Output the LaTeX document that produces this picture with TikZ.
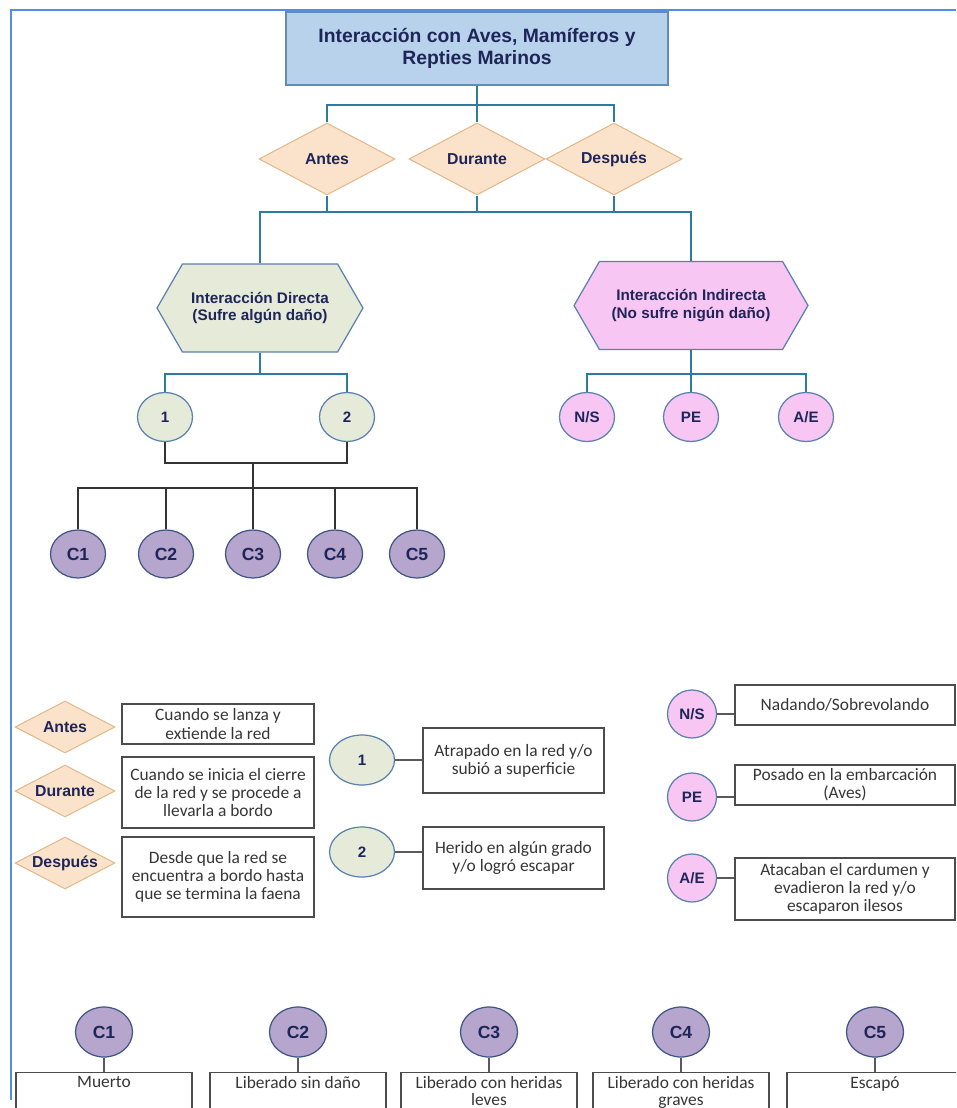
\documentclass[tikz,border=0pt]{standalone}
\usepackage{fontspec}
\setmainfont{Liberation Sans}
\newfontfamily\legendfont{Carlito}
\usetikzlibrary{shapes.geometric,shapes.symbols}
\definecolor{navy}{HTML}{1E2559}
\definecolor{titlefill}{HTML}{B8D2EC}
\definecolor{titleline}{HTML}{5F8DB5}
\definecolor{phasefill}{HTML}{FBE3CB}
\definecolor{phaseline}{HTML}{E3B98B}
\definecolor{dirfill}{HTML}{E5EAD9}
\definecolor{indfill}{HTML}{F7C6F3}
\definecolor{shapeline}{HTML}{5A80AE}
\definecolor{cfill}{HTML}{B6A5CD}
\definecolor{cline}{HTML}{3E5585}
\definecolor{teal}{HTML}{2C7BA0}
\definecolor{framecol}{HTML}{4F8FEA}
\definecolor{legtext}{HTML}{363636}
\newcommand{\dlabel}[1]{\makebox[0pt]{#1}}
\begin{document}
\begin{tikzpicture}[x=0.02cm,y=-0.02cm,
    titlebox/.style={draw=titleline, fill=titlefill, line width=0.9pt, minimum width=7.64cm, minimum height=1.46cm, align=center, text=navy, font=\bfseries\fontsize{11}{12.5}\selectfont},
    phase/.style={diamond, draw=phaseline, fill=phasefill, line width=0.6pt, minimum width=2.72cm, minimum height=1.44cm, inner sep=0pt, text=navy, font=\bfseries\fontsize{9}{10}\selectfont},
    legphase/.style={phase, minimum width=2cm, minimum height=1.04cm},
    hexnode/.style={signal, signal to=east and west, signal pointer angle=120, draw=shapeline, line width=0.7pt, minimum height=1.76cm, align=center, text=navy, font=\bfseries\fontsize{8.7}{10.2}\selectfont},
    circnode/.style={ellipse, draw=shapeline, line width=0.7pt, minimum width=1.1cm, minimum height=0.98cm, inner sep=0pt, text=navy, font=\bfseries\fontsize{8.6}{10}\selectfont},
    dircirc/.style={circnode, fill=dirfill},
    indcirc/.style={circnode, fill=indfill},
    ccirc/.style={circnode, fill=cfill, draw=cline, minimum height=0.96cm, font=\bfseries\fontsize{10}{12}\selectfont},
    legbox/.style={draw=black!70, line width=0.8pt, fill=white, align=center, inner sep=1pt, text=legtext, font=\legendfont\fontsize{9.9}{10.4}\selectfont},
    resultbox/.style={legbox, anchor=north, minimum width=3.52cm, inner ysep=2pt, text depth=14pt, font=\legendfont\fontsize{9.9}{9.6}\selectfont},
    topline/.style={draw=teal, line width=0.8pt},
    blackline/.style={draw=black!80, line width=0.8pt},
    legline/.style={draw=black!65, line width=0.8pt}
  ]
  \useasboundingbox (0,0) rectangle (956,1108);
  \clip (0,0) rectangle (956,1108);
  \draw[framecol, line width=1.7pt] (11,1100) -- (11,10) -- (956,10);

  \node[titlebox] (title) at (477,48.5) {Interacción con Aves, Mamíferos y\\Repties Marinos};
  \node[phase] (antes) at (327,159) {\dlabel{Antes}};
  \node[phase] (durante) at (477,159) {\dlabel{Durante}};
  \node[phase] (despues) at (614,159) {\dlabel{Después}};
  \node[hexnode, fill=dirfill, minimum width=4.12cm] (dir) at (260,308) {Interacción Directa\\(Sufre algún daño)};
  \node[hexnode, fill=indfill, minimum width=4.68cm] (ind) at (691,305.5) {Interacción Indirecta\\(No sufre nigún daño)};
  \node[dircirc] (uno) at (165,417) {1};
  \node[dircirc] (dos) at (347,417) {2};
  \node[indcirc] (ns) at (587,417) {N/S};
  \node[indcirc] (pe) at (691,417) {PE};
  \node[indcirc] (ae) at (806,417) {A/E};
  \foreach \n/\x in {1/78,2/166,3/253,4/335,5/417}
    \node[ccirc] (c\n) at (\x,554) {C\n};

  \coordinate (bus1) at (477,105);
  \coordinate (bus2) at (477,212);
  \draw[topline] (title.south) -- (durante.north);
  \draw[topline] (antes.north) |- (bus1) -| (despues.north);
  \foreach \p in {antes,durante,despues}
    \draw[topline] (\p.south) -- (\p.south |- bus2);
  \draw[topline] (dir.north) |- (bus2) -| (ind.north);
  \coordinate (bus3) at (260,374);
  \coordinate (bus4) at (691,374);
  \draw[topline] (dir.south) -- (bus3);
  \draw[topline] (uno.north) |- (bus3) -| (dos.north);
  \draw[topline] (ind.south) -- (pe.north);
  \draw[topline] (ns.north) |- (bus4) -| (ae.north);
  \coordinate (bus5) at (253,463);
  \coordinate (bus6) at (253,488);
  \draw[blackline] (uno.south) |- (bus5) -| (dos.south);
  \draw[blackline] (bus5) -- (c3.north);
  \draw[blackline] (c1.north) |- (bus6) -| (c5.north);
  \foreach \n in {2,4}
    \draw[blackline] (c\n.north) -- (c\n.north |- bus6);

  % legend
  \node[legphase] (lantes) at (65,727) {\dlabel{Antes}};
  \node[legphase] (ldurante) at (65,791) {\dlabel{Durante}};
  \node[legphase] (ldespues) at (65,863) {\dlabel{Después}};
  \node[legbox, minimum width=3.84cm, minimum height=0.8cm] (tantes) at (218,724) {Cuando se lanza y\\extiende la red};
  \node[legbox, minimum width=3.84cm, minimum height=1.42cm] (tdurante) at (218,792.5) {Cuando se inicia el cierre\\de la red y se procede a\\llevarla a bordo};
  \node[legbox, minimum width=3.84cm, minimum height=1.6cm] (tdespues) at (218,877) {Desde que la red se\\encuentra a bordo hasta\\que se termina la faena};

  \node[dircirc, minimum width=1.3cm, minimum height=1cm] (luno) at (362,760) {1};
  \node[dircirc, minimum width=1.3cm, minimum height=1cm] (ldos) at (362,852) {2};
  \node[legbox, minimum width=3.62cm, minimum height=1.3cm] (tuno) at (513.5,760.5) {Atrapado en la red y/o\\subió a superficie};
  \node[legbox, minimum width=3.62cm, minimum height=1.24cm] (tdos) at (513.5,858) {Herido en algún grado\\y/o logró escapar};
  \draw[legline] (luno.east) -- (luno.east -| tuno.west);
  \draw[legline] (ldos.east) -- (ldos.east -| tdos.west);

  \node[indcirc, minimum width=0.98cm, minimum height=0.96cm] (lns) at (692,714) {N/S};
  \node[indcirc, minimum width=0.98cm, minimum height=0.96cm] (lpe) at (692,797) {PE};
  \node[indcirc, minimum width=0.98cm, minimum height=0.96cm] (lae) at (692,878) {A/E};
  \node[legbox, minimum width=4.4cm, minimum height=0.8cm] (tns) at (845,705) {Nadando/Sobrevolando};
  \node[legbox, minimum width=4.4cm, minimum height=0.8cm] (tpe) at (845,785) {Posado en la embarcación\\(Aves)};
  \node[legbox, minimum width=4.4cm, minimum height=1.24cm] (tae) at (845,889) {Atacaban el cardumen y\\evadieron la red y/o\\escaparon ilesos};
  \draw[legline] (lns.east) -- (lns.east -| tns.west);
  \draw[legline] (lpe.east) -- (lpe.east -| tpe.west);
  \draw[legline] (lae.east) -- (lae.east -| tae.west);

  \foreach \n/\x/\t in {1/104/Muerto, 2/298/Liberado sin daño, 3/489/{Liberado con heridas\\leves}, 4/681/{Liberado con heridas\\graves}, 5/875/Escapó}{
    \node[ccirc, minimum width=1.14cm, minimum height=1cm] (k\n) at (\x,1032) {C\n};
    \node[resultbox] (r\n) at (\x,1072) {\t};
    \draw[legline] (k\n.south) -- (r\n.north);
  }
\end{tikzpicture}
\end{document}
